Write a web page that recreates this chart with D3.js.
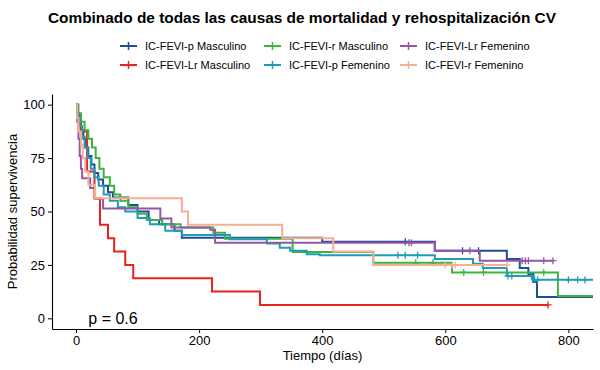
<!DOCTYPE html>
<html lang="es">
<head>
<meta charset="UTF-8">
<title>Combinado de todas las causas de mortalidad y rehospitalización CV</title>
<script src="https://d3js.org/d3.v7.min.js"></script>
<style>
body {
  margin: 0;
  background: white;
  font-family: 'Liberation Sans', Arial, sans-serif;
}
.title { font-size: 15.4px; font-weight: bold; fill: #000; }
.legend-label { font-size: 11px; fill: #000; }
.axis text { font-size: 13px; fill: #000; font-family: 'Liberation Sans', Arial, sans-serif; }
.axis line, .axis path { stroke: #000; }
.axis-title { font-size: 13px; fill: #000; }
.pval { font-size: 16px; fill: #000; }
</style>
</head>
<body>
<div id="chart"></div>
<script>

// ---- data ----
const groups = ["IC-FEVI-p Masculino", "IC-FEVI-Lr Masculino", "IC-FEVI-r Masculino",
                "IC-FEVI-p Femenino", "IC-FEVI-Lr Femenino", "IC-FEVI-r Femenino"];
const colors = ["#1F4E96", "#E8231B", "#3DB53D", "#1F9CB6", "#9457A6", "#F7AE92"];

const pMascTime = [0, 2, 5, 8, 12, 16, 20, 25, 30, 36, 44, 52, 60, 85, 100, 118, 135, 160, 172, 400, 583, 700, 721, 735, 743, 749];
const pMascSurv = [100, 96, 92, 88, 84, 80, 76, 72, 68, 65, 62, 59, 56.5, 53, 50, 46, 44, 41, 37.7, 35.8, 31.6, 27.8, 23.6, 20.7, 17, 10];
const pMascCens = [535, 628, 654];
const pMascEnd = 840;

const lrMascTime = [0, 3, 8, 18, 30, 39, 52, 62, 80, 93, 221, 299];
const lrMascSurv = [100, 93.75, 87.5, 68.75, 56.25, 43.75, 37.5, 31.25, 25, 18.75, 12.5, 6.25];
const lrMascCens = [767];
const lrMascEnd = 767;

const rMascTime = [0, 4, 8, 14, 20, 26, 32, 38, 45, 55, 62, 72, 85, 100, 115, 140, 170, 223, 242, 352, 483, 611, 783];
const rMascSurv = [100, 96, 92, 88, 84, 80, 75, 70, 66, 62, 58, 55, 52, 49, 46, 44, 42.5, 40, 37.3, 31, 26, 21.5, 10.5];
const rMascCens = [552, 580, 630, 662, 760];
const rMascEnd = 840;

const pFemTime = [0, 3, 6, 10, 14, 19, 24, 30, 37, 45, 55, 68, 80, 100, 120, 145, 172, 250, 310, 331, 348, 375, 396, 583, 645, 661, 700, 743];
const pFemSurv = [100, 95, 90, 85, 80, 75, 70, 66, 62, 58, 55, 52, 50, 47, 44, 41, 39, 37, 35, 33, 31.6, 30, 29.5, 27.8, 25.5, 23.6, 19.8, 18];
const pFemCens = [523, 535, 555, 702, 708, 740, 745, 750, 800, 815, 827];
const pFemEnd = 840;

const lrFemTime = [0, 2, 4, 6, 8, 10, 23, 31, 44, 137, 155, 218, 226, 583, 656];
const lrFemSurv = [100, 92, 84, 76, 70, 65.6, 61, 56, 51.4, 46.7, 42.5, 41.5, 35.4, 31.6, 27];
const lrFemCens = [541, 545, 640, 725, 730, 735, 760, 775];
const lrFemEnd = 775;

const rFemTime = [0, 2, 4, 8, 11, 15, 20, 31, 172, 182, 335, 418, 483];
const rFemSurv = [100, 93.75, 87.5, 81.25, 75, 68.75, 62.5, 56.25, 50, 43.75, 37.5, 31.25, 25];
const rFemCens = [600, 611, 616, 700];
const rFemEnd = 700;

const xTicks = [0, 200, 400, 600, 800];
const yTicks = [0, 25, 50, 75, 100];
const pValue = "p = 0.6";

// build series table
const series = [
  {time: pMascTime, surv: pMascSurv, cens: pMascCens, end: pMascEnd},
  {time: lrMascTime, surv: lrMascSurv, cens: lrMascCens, end: lrMascEnd},
  {time: rMascTime, surv: rMascSurv, cens: rMascCens, end: rMascEnd},
  {time: pFemTime, surv: pFemSurv, cens: pFemCens, end: pFemEnd},
  {time: lrFemTime, surv: lrFemSurv, cens: lrFemCens, end: lrFemEnd},
  {time: rFemTime, surv: rFemSurv, cens: rFemCens, end: rFemEnd}
].map((s, i) => {
  let pts = s.time.map((t, j) => [t, s.surv[j]]);
  pts.push([s.end, s.surv[s.surv.length - 1]]);
  return {name: groups[i], color: colors[i], pts: pts, cens: s.cens};
});

function survAt(pts, t) {
  let v = pts[0][1];
  pts.forEach(p => { if (p[0] <= t) v = p[1]; });
  return v;
}

// ---- size ----
const W = 600, H = 370;
const panel = {left: 52, right: 593, top: 94, bottom: 329};

const svg = d3.select("#chart").append("svg")
  .attr("width", W).attr("height", H);

const x = d3.scaleLinear().domain([-39, 840]).range([panel.left, panel.right]);
const y = d3.scaleLinear().domain([-5, 105]).range([panel.bottom, panel.top]);

// title
svg.append("text").attr("class", "title")
  .attr("x", 302).attr("y", 23)
  .attr("text-anchor", "middle")
  .text("Combinado de todas las causas de mortalidad y rehospitalización CV");

// legend (3 columns x 2 rows, filled by column)
const colX = [120, 264, 400];
const rowY = [46, 65];
series.forEach((s, i) => {
  let g = svg.append("g")
    .attr("transform", `translate(${colX[Math.floor(i / 2)]},${rowY[i % 2]})`);
  g.append("line").attr("x1", 0).attr("x2", 17).attr("y1", 0).attr("y2", 0)
    .attr("stroke", s.color).attr("stroke-width", 2);
  g.append("line").attr("x1", 8.5).attr("x2", 8.5).attr("y1", -4).attr("y2", 4)
    .attr("stroke", s.color).attr("stroke-width", 1.5);
  g.append("text").attr("class", "legend-label")
    .attr("x", 25).attr("y", 4)
    .text(s.name);
});

// axes
svg.append("g").attr("class", "axis")
  .attr("transform", `translate(0,${panel.bottom})`)
  .call(d3.axisBottom(x).tickValues(xTicks).tickSize(4).tickSizeOuter(0).tickPadding(3));

svg.append("g").attr("class", "axis")
  .attr("transform", `translate(${panel.left},0)`)
  .call(d3.axisLeft(y).tickValues(yTicks).tickSize(4).tickSizeOuter(0).tickPadding(3));

svg.selectAll(".axis .domain").attr("stroke-width", 1.1);

svg.append("text").attr("class", "axis-title")
  .attr("x", (panel.left + panel.right) / 2).attr("y", 360)
  .attr("text-anchor", "middle")
  .text("Tiempo (días)");

svg.append("text").attr("class", "axis-title")
  .attr("transform", `translate(17,${(panel.top + panel.bottom) / 2}) rotate(-90)`)
  .attr("text-anchor", "middle")
  .text("Probabilidad supervivencia");

// curves
const line = d3.line()
  .x(d => x(d[0]))
  .y(d => y(d[1]))
  .curve(d3.curveStepAfter);

series.forEach(s => {
  svg.append("path")
    .datum(s.pts)
    .attr("fill", "none")
    .attr("stroke", s.color)
    .attr("stroke-width", 2)
    .attr("d", line);

  svg.selectAll(null)
    .data(s.cens)
    .join("path")
    .attr("transform", d => `translate(${x(d)},${y(survAt(s.pts, d))})`)
    .attr("d", "M-3.5,0H3.5M0,-3.5V3.5")
    .attr("stroke", s.color)
    .attr("stroke-width", 1.3);
});

// p value
svg.append("text").attr("class", "pval")
  .attr("x", x(20)).attr("y", y(0) + 6)
  .text(pValue);

</script>
</body>
</html>
